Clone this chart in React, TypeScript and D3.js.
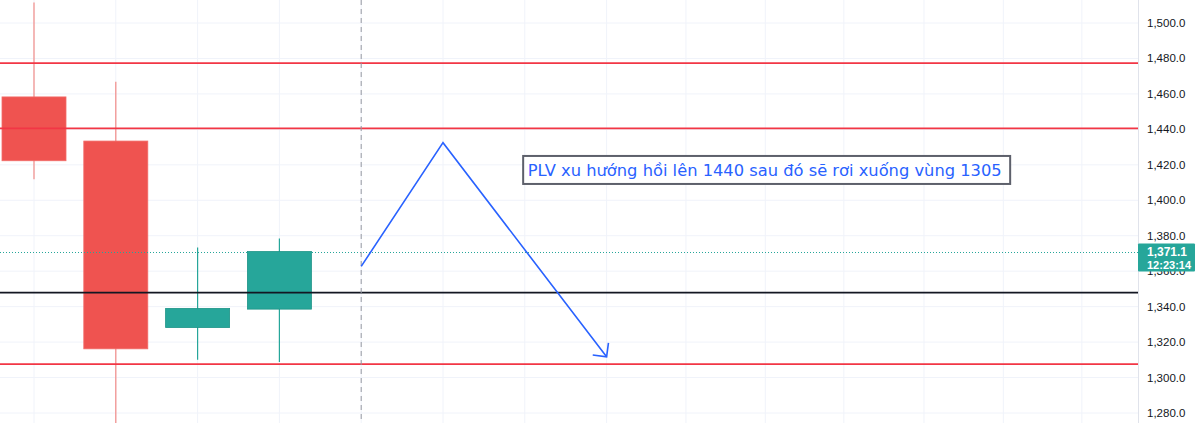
import React from "react";
import * as d3 from "d3";

// ---- data ----
const candleOpen = [1458.3, 1433.4, 1328.2, 1338.6];
const candleClose = [1422.3, 1316.2, 1339.0, 1371.1];
const candleHigh = [1511.5, 1466.8, 1373.3, 1378.4];
const candleLow = [1411.8, 1262.0, 1310.1, 1308.7];

const priceTicks = [1280, 1300, 1320, 1340, 1360, 1380, 1400, 1420, 1440, 1460, 1480, 1500];
const timeGrid = [0, 1, 2, 3, 4, 5, 6, 7, 7.97, 8.94, 9.9, 10.88, 11.85, 12.81];

const redLevels = [1477.4, 1440.6, 1307.6];
const blackLevel = 1347.9;
const lastPrice = 1371.1;
const lastPriceText = "1,371.1";
const countdownText = "12:23:14";

const pathIdx = [4, 5, 7];
const pathPrice = [1362.7, 1432.5, 1311.7];
const dashedIdx = 4;

const noteText = "PLV xu hướng hồi lên 1440 sau đó sẽ rơi xuống vùng 1305";
const noteIdx = 5.98; // left edge
const notePrice = 1417.1; // vertical center

const W = 1200;
const H = 423;
const plotRight = 1138;

export default function App() {
  React.useEffect(() => {
    document.body.style.margin = "0";
  }, []);

  const x = d3.scaleLinear().domain([0, 1]).range([34, 115.8]);
  const y = d3.scaleLinear().domain([1500, 1280]).range([23, 413]);
  const bodyW = 64;

  const up = "#26a69a";
  const down = "#ef5350";

  const fmt = d3.format(",.1f");

  const line = d3
    .line<number>()
    .x((_, i) => x(pathIdx[i]))
    .y((d) => y(d));

  // arrow head
  const n = pathIdx.length;
  const ex = x(pathIdx[n - 1]);
  const ey = y(pathPrice[n - 1]);
  const px = x(pathIdx[n - 2]);
  const py = y(pathPrice[n - 2]);
  const ang = Math.atan2(py - ey, px - ex);
  const aLen = 14;
  const a1 = ang + (45 * Math.PI) / 180;
  const a2 = ang - (45 * Math.PI) / 180;
  const arrowD = `M${ex + aLen * Math.cos(a1)},${ey + aLen * Math.sin(a1)}L${ex},${ey}L${ex + aLen * Math.cos(a2)},${ey + aLen * Math.sin(a2)}`;

  const noteX = x(noteIdx);
  const noteY = y(notePrice);

  const lpY = y(lastPrice);
  const lpLineY = Math.round(lpY) + 0.5;

  return (
    <svg
      width={W}
      height={H}
      style={{ position: "fixed", left: 0, top: 0, background: "#ffffff" }}
    >
      <rect x={0} y={0} width={W} height={H} fill="#ffffff" />
      <defs>
        <clipPath id="plot">
          <rect x={0} y={0} width={plotRight} height={H} />
        </clipPath>
      </defs>
      <g clipPath="url(#plot)">
        {/* grid */}
        {priceTicks.map((p) => (
          <line key={"h" + p} x1={0} x2={plotRight} y1={y(p)} y2={y(p)} stroke="#f0f3fa" strokeWidth={1} />
        ))}
        {timeGrid.map((t) => (
          <line key={"v" + t} x1={x(t)} x2={x(t)} y1={0} y2={H} stroke="#f0f3fa" strokeWidth={1} />
        ))}

        {/* candles */}
        {candleOpen.map((o, i) => {
          const c = candleClose[i];
          const col = c >= o ? up : down;
          const wickCol = c >= o ? up : "#f28b88";
          const cx = x(i);
          const top = y(Math.max(o, c));
          const bot = y(Math.min(o, c));
          return (
            <g key={"c" + i}>
              <line x1={cx} x2={cx} y1={y(candleHigh[i])} y2={y(candleLow[i])} stroke={wickCol} strokeWidth={1.2} />
              <rect x={cx - bodyW / 2} y={top} width={bodyW} height={bot - top} fill={col} stroke={c >= o ? "#1f9488" : "#f26b68"} strokeWidth={0.8} />
            </g>
          );
        })}

        {/* levels */}
        <line x1={0} x2={plotRight} y1={lpLineY} y2={lpLineY} stroke={up} strokeWidth={1} strokeDasharray="1 2" />
        <line x1={0} x2={plotRight} y1={y(blackLevel)} y2={y(blackLevel)} stroke="#131722" strokeWidth={1.8} />
        {redLevels.map((p) => (
          <line key={"r" + p} x1={0} x2={plotRight} y1={y(p)} y2={y(p)} stroke="#f23645" strokeWidth={1.8} />
        ))}

        {/* vertical dashed */}
        <line x1={x(dashedIdx)} x2={x(dashedIdx)} y1={0} y2={H} stroke="#9598a1" strokeWidth={1} strokeDasharray="5 4" />

        {/* blue path */}
        <path d={line(pathPrice) || ""} fill="none" stroke="#2962ff" strokeWidth={1.6} strokeLinejoin="miter" />
        <path d={arrowD} fill="none" stroke="#2962ff" strokeWidth={1.6} />

        {/* note */}
        <rect x={noteX} y={noteY - 14} width={487} height={28} fill="#ffffff" stroke="#5d606b" strokeWidth={2} />
        <text x={noteX + 4.5} y={noteY + 6} fill="#2962ff" fontFamily="DejaVu Sans" fontSize={16.3}>
          {noteText}
        </text>
      </g>

      {/* axis */}
      <line x1={plotRight + 0.5} x2={plotRight + 0.5} y1={0} y2={H} stroke="#e0e3eb" strokeWidth={1} />
      {priceTicks.map((p) => (
        <text key={"t" + p} x={1147} y={y(p) + 4} fill="#131722" fontFamily="Liberation Sans" fontSize={11.5}>
          {fmt(p)}
        </text>
      ))}

      {/* last price label */}
      <rect x={plotRight} y={lpY - 8} width={57} height={28} fill={up} rx={1} />
      <text x={1147} y={lpY + 4} fill="#ffffff" fontFamily="Liberation Sans" fontSize={12} fontWeight="bold">
        {lastPriceText}
      </text>
      <text x={1147} y={lpY + 17} fill="#ffffff" fontFamily="Liberation Sans" fontSize={11} fontWeight="bold">
        {countdownText}
      </text>
    </svg>
  );
}
